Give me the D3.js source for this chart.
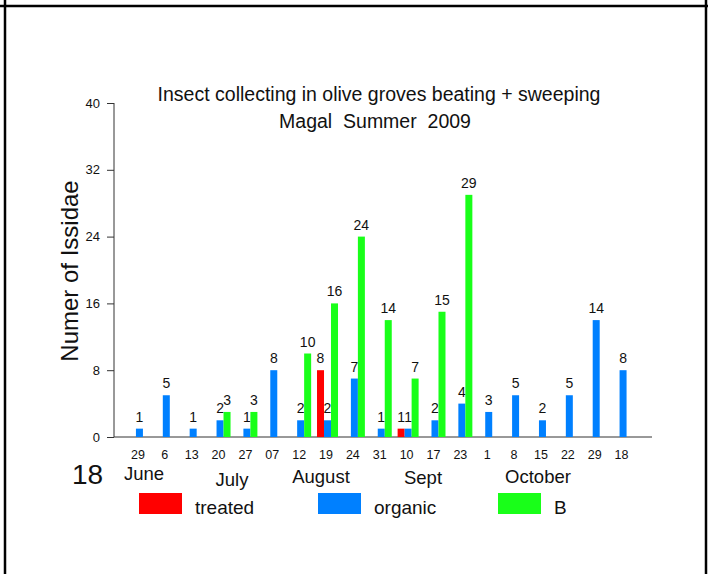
<!DOCTYPE html>
<html>
<head>
<meta charset="utf-8">
<script src="https://cdn.jsdelivr.net/npm/d3@7"></script>
<style>
  body { margin: 0; background: #fff; }
  text { font-family: "Liberation Sans", Arial, sans-serif; fill: #111; }
</style>
</head>
<body>
<script>
var svgW = 709;
var svgH = 574;

// sampling dates along the x axis
var dates = ["29", "6", "13", "20", "27", "07", "12", "19", "24", "31", "10", "17", "23", "1", "8", "15", "22", "29", "18"];
var months = ["June", "July", "August", "Sept", "October"];
var seriesNames = ["treated", "organic", "B"];
var seriesColors = ["#ff0000", "#0080ff", "#19ff19"];

// number of Issidae per date (null = no sample)
var treated = [null, null, null, null, null, null, null, 8, null, null, 1, null, null, null, null, null, null, null, null];
var organic = [1, 5, 1, 2, 1, 8, 2, 2, 7, 1, 1, 2, 4, 3, 5, 2, 5, 14, 8];
var beating = [null, null, null, 3, 3, null, 10, 16, 24, 14, 7, 15, 29, null, null, null, null, null, null];

var yTicks = [0, 8, 16, 24, 32, 40];

var svg = d3.select("body")
  .append("svg")
  .attr("width", svgW)
  .attr("height", svgH);

// frame lines (top, left, right)
svg.append("line").attr("x1", 0).attr("x2", 708).attr("y1", 6).attr("y2", 6)
  .attr("stroke", "#000").attr("stroke-width", 2.5);
svg.append("line").attr("x1", 5).attr("x2", 5).attr("y1", 0).attr("y2", svgH)
  .attr("stroke", "#000").attr("stroke-width", 2.5);
svg.append("line").attr("x1", 706).attr("x2", 706).attr("y1", 0).attr("y2", svgH)
  .attr("stroke", "#000").attr("stroke-width", 2.5);

var x0 = d3.scaleBand()
  .domain(d3.range(dates.length))
  .range([126, 636.5]);

var x1 = d3.scaleBand()
  .domain(seriesNames)
  .range([-10.5, 10.5]);

var y = d3.scaleLinear()
  .domain([0, 40])
  .range([437, 103]);

// axes
var yAxis = svg.append("g")
  .attr("transform", "translate(114,0)")
  .call(d3.axisLeft(y).tickValues(yTicks).tickSize(7).tickPadding(7));
yAxis.select(".domain").attr("stroke", "#333").attr("d", "M0,103V437");
yAxis.selectAll(".tick line").attr("stroke", "#333");
yAxis.selectAll(".tick text")
  .attr("font-size", "13px")
  .attr("font-family", "Liberation Sans, Arial, sans-serif")
  .attr("fill", "#111");

svg.append("line")
  .attr("x1", 114).attr("x2", 652)
  .attr("y1", y(0)).attr("y2", y(0))
  .attr("stroke", "#333");

// bars
var rows = [treated, organic, beating];
var groups = svg.selectAll("g.series")
  .data(seriesNames)
  .enter()
  .append("g")
  .attr("class", "series");

groups.each(function(name, s) {
  var vals = rows[s].map(function(v, i) { return { i: i, v: v }; })
    .filter(function(d) { return d.v != null; });
  var g = d3.select(this);
  g.selectAll("rect")
    .data(vals)
    .enter()
    .append("rect")
    .attr("x", function(d) { return x0(d.i) + x0.bandwidth() / 2 + x1(name); })
    .attr("y", function(d) { return y(d.v); })
    .attr("width", x1.bandwidth())
    .attr("height", function(d) { return y(0) - y(d.v); })
    .attr("fill", seriesColors[s]);
  g.selectAll("text")
    .data(vals)
    .enter()
    .append("text")
    .text(function(d) { return d.v; })
    .attr("text-anchor", "middle")
    .attr("x", function(d) { return x0(d.i) + x0.bandwidth() / 2 + x1(name) + x1.bandwidth() / 2; })
    .attr("y", function(d) { return y(d.v) - 7; })
    .attr("font-size", "14px");
});

// date labels
svg.selectAll("text.date")
  .data(dates)
  .enter()
  .append("text")
  .attr("class", "date")
  .text(function(d) { return d; })
  .attr("text-anchor", "middle")
  .attr("x", function(d, i) { return x0(i) + x0.bandwidth() / 2 - 1.5; })
  .attr("y", 459)
  .attr("font-size", "12.5px");

// month labels sit under their first few dates
var monthX = [144, 232, 321, 423, 538];
var monthY = [480, 486, 483, 484, 483];
svg.selectAll("text.month")
  .data(months)
  .enter()
  .append("text")
  .attr("class", "month")
  .text(function(d) { return d; })
  .attr("text-anchor", "middle")
  .attr("x", function(d, i) { return monthX[i]; })
  .attr("y", function(d, i) { return monthY[i]; })
  .attr("font-size", "18.5px");

svg.append("text")
  .text("18")
  .attr("x", 72)
  .attr("y", 484)
  .attr("font-size", "28px");

// titles
svg.append("text")
  .text("Insect collecting in olive groves beating + sweeping")
  .attr("text-anchor", "middle")
  .attr("x", 379)
  .attr("y", 101)
  .attr("font-size", "19.5px");
svg.append("text")
  .text("Magal\u00a0 Summer\u00a0 2009")
  .attr("text-anchor", "middle")
  .attr("x", 375)
  .attr("y", 128)
  .attr("font-size", "19.5px");

svg.append("text")
  .text("Numer of Issidae")
  .attr("text-anchor", "middle")
  .attr("transform", "translate(78,271) rotate(-90)")
  .attr("font-size", "24px");

// legend
var legX = [139, 318, 498];
var leg = svg.selectAll("g.legend")
  .data(seriesNames)
  .enter()
  .append("g")
  .attr("class", "legend")
  .attr("transform", function(d, i) { return "translate(" + legX[i] + ",493)"; });
leg.append("rect")
  .attr("width", 43)
  .attr("height", 21)
  .attr("fill", function(d, i) { return seriesColors[i]; });
leg.append("text")
  .text(function(d) { return d; })
  .attr("x", 56)
  .attr("y", 21)
  .attr("font-size", "19px");
</script>
</body>
</html>
